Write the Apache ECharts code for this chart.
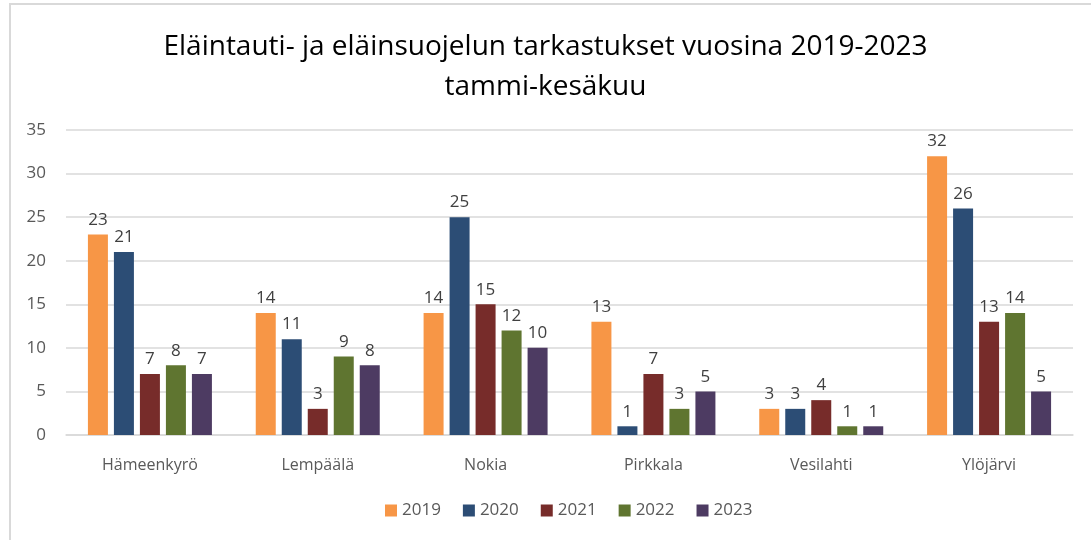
<!DOCTYPE html>
<html>
<head>
<meta charset="utf-8">
<script src="https://cdn.jsdelivr.net/npm/echarts@6/dist/echarts.min.js"></script>
<style>
  html, body { margin: 0; padding: 0; background: #fff; overflow: hidden; }
  .frame {
    position: absolute; left: 9px; top: 3px; width: 1100px; height: 560px;
    border: 2px solid #d9d9d9; box-sizing: border-box;
  }
  #chart { position: absolute; left: 0; top: 0; width: 1091px; height: 540px; }
</style>
</head>
<body>
<div class="frame"></div>
<div id="chart"></div>
<script>
// kunnat
const categories = ['Hämeenkyrö', 'Lempäälä', 'Nokia', 'Pirkkala', 'Vesilahti', 'Ylöjärvi'];
const years = ['2019', '2020', '2021', '2022', '2023'];

const v2019 = [23, 14, 14, 13, 3, 32];
const v2020 = [21, 11, 25, 1, 3, 26];
const v2021 = [7, 3, 15, 7, 4, 13];
const v2022 = [8, 9, 12, 3, 1, 14];
const v2023 = [7, 8, 10, 5, 1, 5];

const yTicks = [0, 5, 10, 15, 20, 25, 30, 35];

const colors = ['#F79646', '#2C4D75', '#772C2A', '#5F7530', '#4D3B62'];
const values = [v2019, v2020, v2021, v2022, v2023];

const myChart = echarts.init(document.getElementById('chart'));

const font = '"Open Sans", "Noto Sans", sans-serif';

const option = {
  color: colors,
  animation: false,
  title: {
    text: 'Eläintauti- ja eläinsuojelun tarkastukset vuosina 2019-2023\ntammi-kesäkuu',
    left: 'center',
    top: 22,
    textStyle: {
      fontFamily: font,
      fontSize: 28,
      fontWeight: 'normal',
      color: '#000',
      lineHeight: 40
    }
  },
  grid: {
    left: 66,
    right: 18,
    top: 130,
    bottom: 105
  },
  legend: {
    data: years,
    bottom: 16,
    left: 380,
    itemWidth: 12,
    itemHeight: 12,
    itemGap: 22,
    icon: 'rect',
    textStyle: { fontFamily: font, fontSize: 17, color: '#595959' }
  },
  xAxis: {
    type: 'category',
    data: categories,
    axisLine: { show: true, lineStyle: { color: '#d9d9d9', width: 1.5 } },
    axisTick: { show: false },
    axisLabel: { margin: 22, fontFamily: font, fontSize: 16, color: '#595959' }
  },
  yAxis: {
    type: 'value',
    min: yTicks[0],
    max: yTicks[yTicks.length - 1],
    interval: 5,
    axisLine: { show: false },
    axisTick: { show: false },
    splitLine: { lineStyle: { color: '#d9d9d9', width: 1.5 } },
    axisLabel: { margin: 20, fontFamily: font, fontSize: 17, color: '#595959' }
  },
  series: years.map((y, i) => ({
    name: y,
    type: 'bar',
    data: values[i],
    barWidth: 20,
    barGap: '30%',
    itemStyle: { color: colors[i] },
    label: {
      show: true,
      position: 'top',
      distance: 6,
      fontFamily: font,
      fontSize: 17,
      color: '#404040'
    }
  }))
};

myChart.setOption(option);
</script>
</body>
</html>
